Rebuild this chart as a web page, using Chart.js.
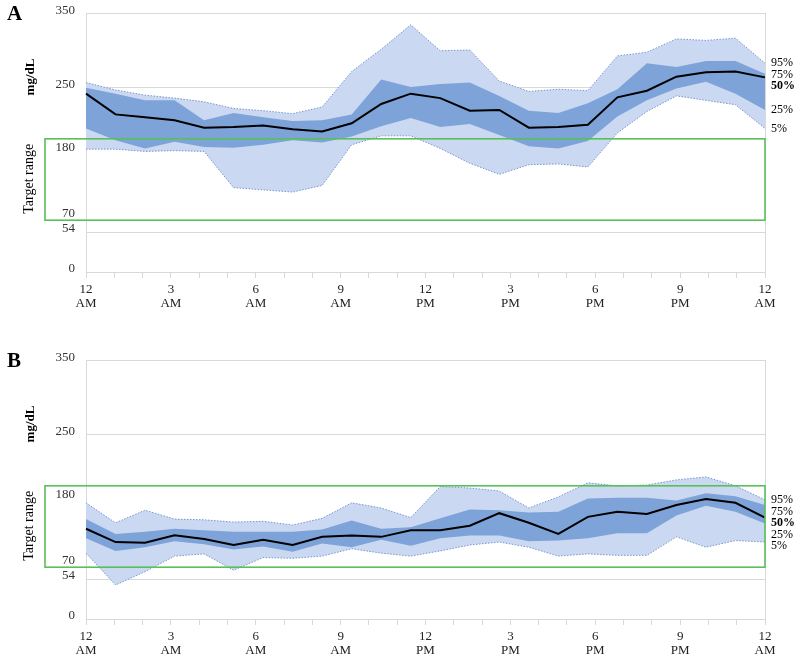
<!DOCTYPE html>
<html>
<head>
<meta charset="utf-8">
<script src="https://cdn.jsdelivr.net/npm/chart.js@4.4.1/dist/chart.umd.min.js"></script>
<style>
  body { margin: 0; background: #fff; }
  .panel { position: absolute; left: 0; width: 800px; height: 310px; }
</style>
</head>
<body>
<div class="panel" style="top:0"><canvas id="chartA"></canvas></div>
<div class="panel" style="top:347px"><canvas id="chartB"></canvas></div>
<script>
// hourly slots (24 readings, 12 AM .. 11 PM)
const slots = ["0h","1h","2h","3h","4h","5h","6h","7h","8h","9h","10h","11h",
               "12h","13h","14h","15h","16h","17h","18h","19h","20h","21h","22h","23h"];
const hourTicks = [["12","AM"],["3","AM"],["6","AM"],["9","AM"],["12","PM"],
                   ["3","PM"],["6","PM"],["9","PM"],["12","AM"]];
const yTicks = [350, 250, 180, 70, 54, 0];
const targetRange = [70, 180];
const pctLabels = ["95%", "75%", "50%", "25%", "5%"];

// Panel A percentiles (mg/dL)
const a95 = [256,246,239,235,230,221,218,214,223,271,301,334,299,300,258,244,247,245,292,297,315,313,316,282];
const a75 = [249,241,232,232,205,215,209,204,205,213,260,250,254,256,238,218,215,228,247,282,277,285,285,268];
const a50 = [241,213,209,205,195,196,198,193,190,201,227,241,235,218,219,195,196,199,236,245,264,270,271,263];
const a25 = [194,178,167,176,169,168,172,178,175,183,197,208,196,200,185,170,167,177,210,232,248,257,241,219];
const a5  = [166,166,163,164,163,114,111,108,117,172,184,184,167,147,132,145,146,142,188,217,238,232,226,194];

// Panel B percentiles (mg/dL)
const b95 = [157,130,147,135,134,131,132,127,136,157,150,137,179,177,173,150,165,184,180,181,188,192,180,161];
const b75 = [135,115,118,122,120,118,118,118,121,133,122,124,136,148,147,144,145,163,164,164,160,170,166,154];
const b50 = [122,104,103,113,108,100,107,100,111,113,111,120,120,126,143,130,115,138,145,142,154,162,157,137];
const b25 = [109, 92, 97,105,101, 94, 98, 91,102, 97,107, 99,109,113,113,105,106,109,116,116,140,153,145,129];
const b5  = [ 89, 46, 64, 85, 88, 66, 83, 82, 85, 95, 89, 85, 92,100,104, 97, 85, 88, 86, 86,111, 97,106,104];

const SERIF = '"Liberation Serif", "Times New Roman", serif';
const LIGHT = "rgb(202,217,241)";
const DARK = "rgb(126,163,216)";
const DOT = "rgb(120,150,210)";
const GRID = "#d9d9d9";

const decor = {
  id: "decor",
  afterDatasetsDraw(chart, args, opts) {
    const { ctx, chartArea: a, scales } = chart;
    const y = scales.y;
    ctx.save();

    // right frame line
    ctx.strokeStyle = GRID;
    ctx.lineWidth = 1;
    ctx.beginPath();
    ctx.moveTo(a.right + 0.5, a.top);
    ctx.lineTo(a.right + 0.5, a.bottom);
    ctx.stroke();

    // target range box
    const top = y.getPixelForValue(targetRange[1]);
    const bot = y.getPixelForValue(targetRange[0]);
    ctx.strokeStyle = "rgb(88,192,88)";
    ctx.lineWidth = 1.6;
    ctx.strokeRect(a.left - 41, top, a.right - a.left + 41, bot - top);

    // y labels
    const offs = { 350: -2, 250: -2, 180: 9, 70: -7, 54: -3, 0: -3 };
    ctx.fillStyle = "#333";
    ctx.font = "13px " + SERIF;
    ctx.textAlign = "right";
    ctx.textBaseline = "middle";
    yTicks.forEach(v => {
      ctx.fillText(String(v), a.left - 11, y.getPixelForValue(v) + offs[v]);
    });

    // panel letter
    ctx.fillStyle = "#000";
    ctx.textAlign = "left";
    ctx.font = "bold 21px " + SERIF;
    ctx.fillText(opts.letter, 7, a.top + 2);

    // axis titles
    ctx.save();
    ctx.translate(31, a.top + 64);
    ctx.rotate(-Math.PI / 2);
    ctx.textAlign = "center";
    ctx.font = "bold 13px " + SERIF;
    ctx.fillText("mg/dL", 0, 0);
    ctx.restore();

    ctx.save();
    ctx.translate(29, top + 40);
    ctx.rotate(-Math.PI / 2);
    ctx.textAlign = "center";
    ctx.font = "14px " + SERIF;
    ctx.fillText("Target range", 0, 0);
    ctx.restore();

    // percentile labels at the right end
    const ends = opts.series.map(s => y.getPixelForValue(s[s.length - 1]));
    for (let i = 1; i < ends.length; i++) {
      if (ends[i] < ends[i - 1] + 11.5) ends[i] = ends[i - 1] + 11.5;
    }
    ctx.textAlign = "left";
    pctLabels.forEach((t, i) => {
      ctx.font = (i === 2 ? "bold " : "") + "12px " + SERIF;
      ctx.fillText(t, a.right + 6, ends[i]);
    });
    ctx.restore();
  }
};

function makePanel(id, letter, p95, p75, p50, p25, p5) {
  const ctx = document.getElementById(id).getContext("2d");
  const edge = { pointRadius: 0, tension: 0, xAxisID: "xd" };
  return new Chart(ctx, {
    type: "line",
    data: {
      labels: slots,
      datasets: [
        { ...edge, label: "95%", data: p95, borderColor: DOT, borderWidth: 1, borderDash: [1.5, 1.5],
          fill: 4, backgroundColor: LIGHT, order: 4 },
        { ...edge, label: "75%", data: p75, borderWidth: 0, borderColor: "transparent",
          fill: 3, backgroundColor: DARK, order: 2 },
        { ...edge, label: "50%", data: p50, borderColor: "#000", borderWidth: 2, fill: false, order: 0 },
        { ...edge, label: "25%", data: p25, borderWidth: 0, borderColor: "transparent", fill: false, order: 1 },
        { ...edge, label: "5%", data: p5, borderColor: DOT, borderWidth: 1, borderDash: [1.5, 1.5],
          fill: false, order: 3 }
      ]
    },
    options: {
      responsive: true,
      maintainAspectRatio: false,
      animation: false,
      layout: { padding: { top: 13, right: 35, left: 0, bottom: 0 } },
      plugins: {
        legend: { display: false },
        tooltip: { enabled: false },
        decor: { letter: letter, series: [p95, p75, p50, p25, p5] }
      },
      scales: {
        xd: { type: "category", display: false, offset: false },
        x: {
          type: "linear",
          position: "bottom",
          min: 0,
          max: 24,
          afterFit: s => { s.height = 38; },
          border: { color: GRID },
          grid: { drawOnChartArea: false, drawTicks: true, tickLength: 6, color: GRID },
          ticks: {
            stepSize: 1,
            autoSkip: false,
            maxRotation: 0,
            padding: 5,
            color: "#222",
            font: { family: SERIF, size: 13, lineHeight: 1.05 },
            callback: v => (v % 3 === 0 ? hourTicks[v / 3] : "")
          }
        },
        y: {
          min: 0,
          max: 350,
          afterBuildTicks: s => { s.ticks = yTicks.map(v => ({ value: v })); },
          afterFit: s => { s.width = 86; },
          border: { color: GRID },
          grid: {
            drawTicks: false,
            color: c => ([350, 250, 54].includes(c.tick.value) ? GRID : "transparent")
          },
          ticks: { display: false }
        }
      }
    },
    plugins: [decor]
  });
}

makePanel("chartA", "A", a95, a75, a50, a25, a5);
makePanel("chartB", "B", b95, b75, b50, b25, b5);
</script>
</body>
</html>
